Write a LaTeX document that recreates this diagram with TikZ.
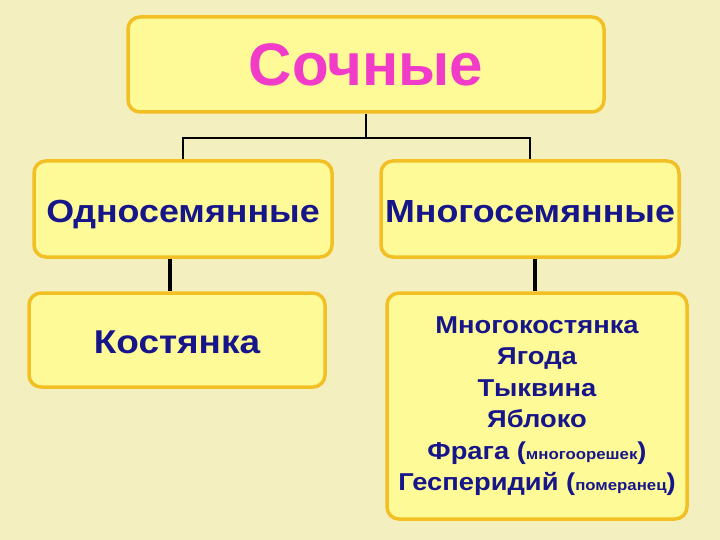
\documentclass[tikz,border=0pt]{standalone}
\usepackage{fontspec}
\setmainfont{Liberation Sans}
\newfontfamily\widesans[FakeStretch=1.12]{Liberation Sans}
\usepackage{xcolor}
\usetikzlibrary{positioning}
\definecolor{pagebeige}{HTML}{F4EFBE}
\definecolor{boxyellow}{HTML}{FFFA98}
\definecolor{boxgold}{HTML}{F2C024}
\definecolor{titlepink}{HTML}{F03CC8}
\definecolor{textnavy}{HTML}{16168A}

\begin{document}
\begin{tikzpicture}[
  x=1pt, y=-1pt,
  card/.style={
    rectangle,
    rounded corners=12pt,
    draw=boxgold,
    line width=3.5pt,
    fill=boxyellow,
    align=center,
    inner sep=0pt,
    font=\widesans\bfseries,
    text=textnavy
  },
  oneline/.style={text height=#1, text depth=0pt},
  thinlink/.style={line width=1.8pt, black},
  thicklink/.style={line width=3.5pt, black}
]

% page background
\fill[pagebeige] (0,0) rectangle (720,540);
\useasboundingbox (0,0) rectangle (720,540);

% top level
\node[card, minimum width=476pt, minimum height=95pt, text=titlepink,
      font=\bfseries\fontsize{60}{60}\selectfont] (juicy) at (366,64.5) {Сочные};

% second level
\node[card, oneline=27pt, minimum width=298pt, minimum height=96pt,
      font=\widesans\bfseries\fontsize{32}{32}\selectfont] (oneseed) at (183,209) {Односемянные};
\node[card, oneline=27pt, minimum width=298pt, minimum height=96pt,
      font=\widesans\bfseries\fontsize{32}{32}\selectfont] (manyseed) at (530,209) {Многосемянные};

% third level
\node[card, oneline=26pt, minimum width=296pt, minimum height=94pt,
      font=\widesans\bfseries\fontsize{33}{33}\selectfont] (drupe) at (177,340) {Костянка};
\node[card, minimum width=300pt, minimum height=226pt,
      font=\widesans\bfseries\fontsize{24.4}{31.5}\selectfont] (fruits) at (537,406)
  {Многокостянка\\Ягода\\Тыквина\\Яблоко\\Фрага ({\fontsize{15}{15}\selectfont многоорешек})\\Гесперидий ({\fontsize{15}{15}\selectfont померанец})};

% connectors
\coordinate (fork) at (366,138);
\draw[thinlink] (juicy.south) -- (fork);
\draw[thinlink] (oneseed.north) |- (fork) -| (manyseed.north);
\draw[thicklink] (oneseed.south -| 170,0) -- (drupe.north -| 170,0);
\draw[thicklink] (manyseed.south -| 535,0) -- (fruits.north -| 535,0);

\end{tikzpicture}
\end{document}
